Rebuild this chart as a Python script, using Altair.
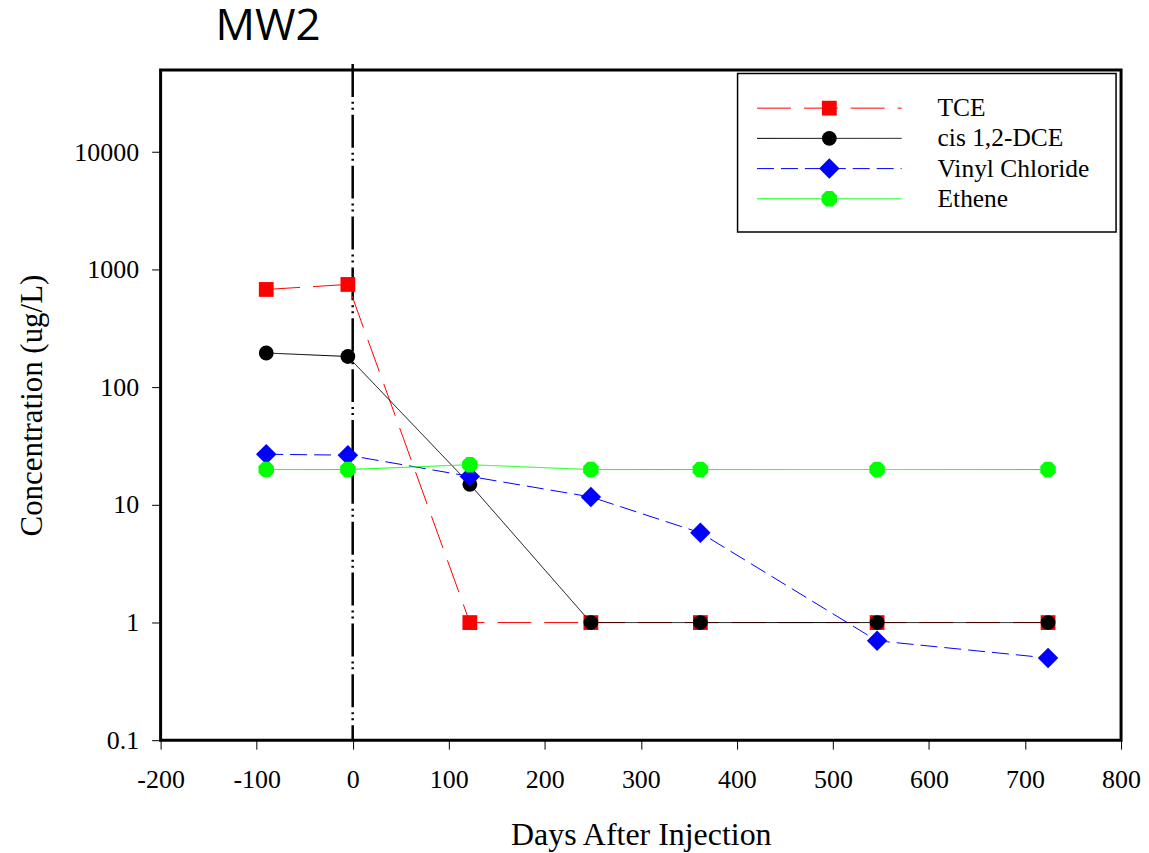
import altair as alt
import pandas as pd

# ---- data ----
days = [-90, -5, 122, 248, 362, 546, 724]
tce = [680, 750, 1, 1, 1, 1, 1]
dce = [196, 183, 15, 1, 1, 1, 1]
vinyl = [27, 26.5, 17.5, 11.7, 5.8, 0.7, 0.5]
ethene = [20, 20, 22, 20, 20, 20, 20]
compounds = ["TCE", "cis 1,2-DCE", "Vinyl Chloride", "Ethene"]
series = [tce, dce, vinyl, ethene]
injection_day = [0]
x_ticks = [-200, -100, 0, 100, 200, 300, 400, 500, 600, 700, 800]
y_ticks = [0.1, 1, 10, 100, 1000, 10000]
chart_title = "MW2"

# ---- styles ----
colors = {"TCE": "#ff0000", "cis 1,2-DCE": "#000000", "Vinyl Chloride": "#0000ff", "Ethene": "#00ff00"}
dashes = {"TCE": [34, 13], "cis 1,2-DCE": [1, 0], "Vinyl Chloride": [17, 7], "Ethene": [1, 0]}
octagon = "M-0.42,-1L0.42,-1L1,-0.42L1,0.42L0.42,1L-0.42,1L-1,0.42L-1,-0.42Z"
shapes = {"TCE": "square", "cis 1,2-DCE": "circle", "Vinyl Chloride": "diamond", "Ethene": octagon}
sizes = {"TCE": 220, "cis 1,2-DCE": 220, "Vinyl Chloride": 420, "Ethene": 240}

SERIF = "Liberation Serif"
W, H = 963, 672

xs = alt.Scale(domain=[-200, 800], nice=False, zero=False)
ys = alt.Scale(type="log", domain=[0.1, 50000], nice=False)

x_axis = alt.Axis(values=x_ticks, title="Days After Injection", grid=False, domain=False,
                  tickSize=9, tickColor="black", tickWidth=1,
                  labelFont=SERIF, labelFontSize=26, labelColor="black", labelPadding=17,
                  labelFlush=False, labelExpr="'' + datum.value",
                  titleFont=SERIF, titleFontSize=32, titleFontWeight="normal",
                  titleColor="black", titlePadding=28)
y_axis = alt.Axis(values=y_ticks, title="Concentration (ug/L)", grid=False, domain=False,
                  tickSize=9, tickColor="black", tickWidth=1,
                  labelFont=SERIF, labelFontSize=26, labelColor="black", labelPadding=13,
                  labelExpr="datum.value < 1 ? format(datum.value, '.1f') : '' + datum.value",
                  titleFont=SERIF, titleFontSize=31, titleFontWeight="normal",
                  titleColor="black", titlePadding=25)

X = alt.X("day:Q", scale=xs, axis=x_axis)
Y = alt.Y("conc:Q", scale=ys, axis=y_axis)

layers = []

# vertical injection line
inj = pd.DataFrame({"day": injection_day})
layers.append(
    alt.Chart(inj).mark_rule(color="black", strokeWidth=2.5, strokeDash=[33, 5, 2, 4, 2, 5])
    .encode(x=X, y=alt.value(-6), y2=alt.value(H))
)

for name, vals in zip(compounds, series):
    df = pd.DataFrame({"day": days, "conc": vals, "compound": name})
    layers.append(
        alt.Chart(df).mark_line(color=colors[name], strokeWidth=1, strokeDash=dashes[name],
                                strokeCap="butt")
        .encode(x=X, y=Y)
    )
    layers.append(
        alt.Chart(df).mark_point(shape=shapes[name], filled=True, opacity=1,
                                 color=colors[name], size=sizes[name])
        .encode(x=X, y=Y)
    )

# ---- legend box ----
one = pd.DataFrame({"k": [0]})
layers.append(
    alt.Chart(one).mark_rect(fill="white", stroke="black", strokeWidth=1.5)
    .encode(x=alt.value(578.5), x2=alt.value(958), y=alt.value(3.5), y2=alt.value(162.5))
)
for i, name in enumerate(compounds):
    yy = 38.3 + i * 30.3
    layers.append(
        alt.Chart(one).mark_rule(color=colors[name], strokeWidth=1, strokeDash=dashes[name],
                                 strokeCap="butt")
        .encode(x=alt.value(598), x2=alt.value(743), y=alt.value(yy))
    )
    layers.append(
        alt.Chart(one).mark_point(shape=shapes[name], filled=True, opacity=1,
                                  color=colors[name], size=sizes[name])
        .encode(x=alt.value(670.5), y=alt.value(yy))
    )
    layers.append(
        alt.Chart(pd.DataFrame({"label": [name]})).mark_text(
            font=SERIF, fontSize=25.5, color="black", align="left", baseline="middle")
        .encode(x=alt.value(779), y=alt.value(yy), text="label:N")
    )

# ---- chart title as text ----
layers.append(
    alt.Chart(pd.DataFrame({"label": [chart_title]})).mark_text(
        font="Open Sans", fontSize=44, color="black", align="left", baseline="alphabetic")
    .encode(x=alt.value(55), y=alt.value(-30.5), text="label:N")
)

chart = (
    alt.layer(*layers)
    .properties(
        width=W, height=H,
        autosize=alt.AutoSizeParams(type="none"),
        padding={"left": 153, "top": 61, "right": 20, "bottom": 112},
    )
    .configure(background="white")
    .configure_view(stroke="black", strokeWidth=3)
)

chart.save("out.html", embed_options={"renderer": "svg", "actions": False})
